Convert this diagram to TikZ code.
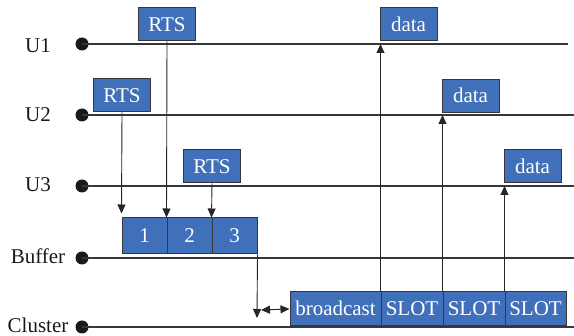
\documentclass[tikz,border=0pt]{standalone}
\usepackage{fontspec}
\setmainfont{Liberation Serif}
\usetikzlibrary{arrows.meta}
\definecolor{boxblue}{RGB}{64,112,186}
\definecolor{linegray}{RGB}{55,55,55}
\begin{document}
\begin{tikzpicture}[x=1pt,y=-1pt,
  font=\fontsize{21}{25}\selectfont,
  bluebox/.style={draw=linegray,line width=1pt,fill=boxblue,text=white,inner sep=0pt,
    text height=13.5pt,text depth=0pt,minimum height=33pt},
  tline/.style={draw=linegray,line width=1.1pt},
  arr/.style={draw=black!85,line width=0.9pt,-{Triangle[length=9pt,width=8pt]}},
  dot/.style={circle,fill=black!90,inner sep=0pt,minimum size=13pt},
  lbl/.style={text=black!90,anchor=base,inner sep=0pt}]
\useasboundingbox (0,0) rectangle (574,336);
% time lines
\node[dot] (d1) at (82,44) {};
\node[dot] (d2) at (82,115) {};
\node[dot] (d3) at (82,186) {};
\node[dot] (d4) at (82,258) {};
\node[dot] (d5) at (82,327) {};
\coordinate (e1) at (568,44);
\coordinate (e2) at (574,115);
\coordinate (e3) at (574,186);
\coordinate (e4) at (574,258);
\coordinate (e5) at (574,327);
\foreach \i in {1,...,5} \draw[tline] (d\i.center) -- (e\i);
\node[lbl] (l1) at (38,53) {U1};
\node[lbl] (l2) at (38,122) {U2};
\node[lbl] (l3) at (38,192) {U3};
\node[lbl] (l4) at (38,263.5) {Buffer};
\node[lbl] (l5) at (38,332.5) {Cluster};
% RTS boxes
\node[bluebox,minimum width=57pt] (r1) at (167,24.5) {RTS};
\node[bluebox,minimum width=57pt] (r2) at (122,95.5) {RTS};
\node[bluebox,minimum width=57pt] (r3) at (212,166.5) {RTS};
% buffer boxes
\node[bluebox,minimum width=45pt,minimum height=36pt] (b1) at (144.5,236) {1};
\node[bluebox,minimum width=45pt,minimum height=36pt] (b2) at (189.5,236) {2};
\node[bluebox,minimum width=45pt,minimum height=36pt] (b3) at (234.5,236) {3};
\draw[arr] (r2.south) -- ([yshift=4pt]b1.north west);
\draw[arr] (r1.south) -- (b2.north west);
\draw[arr] (r3.south) -- (b3.north west);
% cluster boxes
\node[bluebox,minimum width=91pt,minimum height=34pt] (bc) at (335.5,309) {broadcast};
\node[bluebox,minimum width=62pt,minimum height=34pt] (s1) at (412,309) {SLOT};
\node[bluebox,minimum width=62pt,minimum height=34pt] (s2) at (474,309) {SLOT};
\node[bluebox,minimum width=61pt,minimum height=34pt] (s3) at (535.5,309) {SLOT};
% data boxes
\node[bluebox,minimum width=57pt] (da1) at (408.5,24.5) {data};
\node[bluebox,minimum width=57pt] (da2) at (470.5,96) {data};
\node[bluebox,minimum width=57pt] (da3) at (532.5,166.5) {data};
\draw[arr] (s1.north west) -- (s1.north west |- e1);
\draw[arr] (s2.north west) -- (s2.north west |- e2);
\draw[arr] (s3.north west) -- (s3.north west |- e3);
% buffer to cluster
\coordinate (bt) at (257,318);
\draw[arr] (b3.south east) -- (bt);
\coordinate (da) at (261,310);
\draw[draw=black!85,line width=0.9pt,{Triangle[length=9pt,width=8pt]}-{Triangle[length=9pt,width=8pt]}] (da) -- (bc.west);
\end{tikzpicture}
\end{document}
